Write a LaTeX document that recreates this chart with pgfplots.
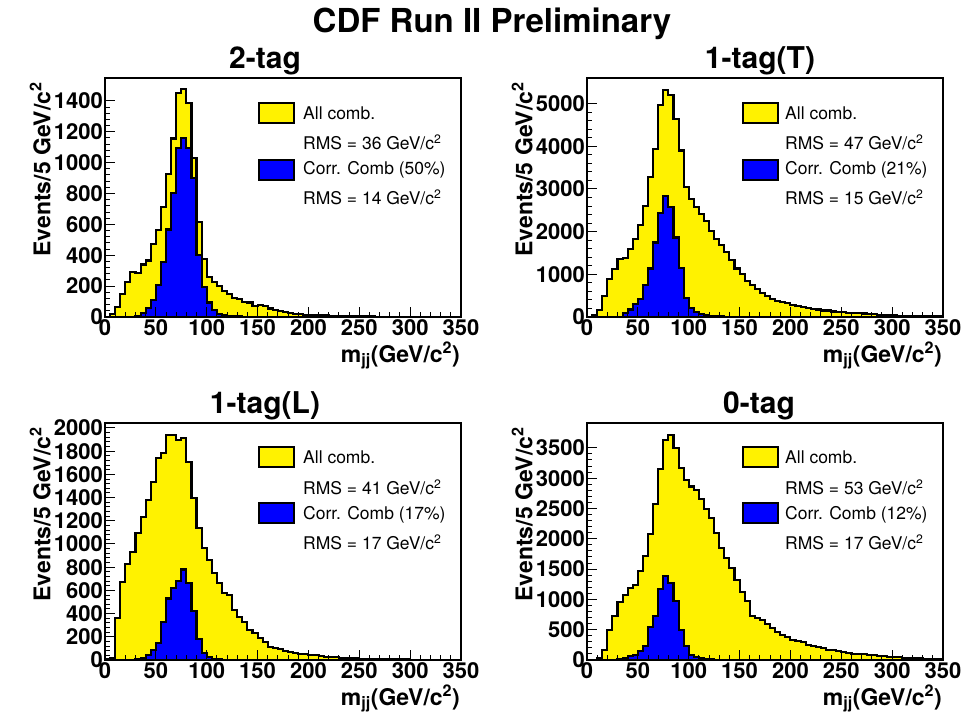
\documentclass[border=0pt]{standalone}
\usepackage{pgfplots}
\pgfplotsset{compat=1.18}
\usepackage{pgfplotstable}
\usepackage{fontspec}
\setmainfont{TeX Gyre Heros}

\pgfplotstableread{
x a c
0 0 0
5 20 0
10 65 0
15 148 0
20 225 0
25 294 0
30 283 5
35 340 28
40 366 61
45 475 111
50 563 209
55 711 355
60 927 567
65 1156 802
70 1452 1097
75 1474 1162
80 1387 1097
85 1031 900
90 617 399
95 377 192
100 257 94
105 225 44
110 198 17
115 170 12
120 148 8
125 122 5
130 116 3
135 98 2
140 94 1
145 72 1
150 78 0
155 72 0
160 55 0
165 44 0
170 39 0
175 33 0
180 28 0
185 22 0
190 18 0
195 15 0
200 13 0
205 12 0
210 10 0
215 10 0
220 8 0
225 7 0
230 6 0
235 5 0
240 5 0
245 4 0
250 4 0
255 3 0
260 3 0
265 2 0
270 2 0
275 2 0
280 1 0
285 1 0
290 1 0
295 1 0
300 1 0
305 0 0
310 0 0
315 0 0
320 0 0
325 0 0
330 0 0
335 0 0
340 0 0
345 0 0
350 0 0
}\tA

\pgfplotstableread{
x a c
0 0 0
5 50 0
10 160 0
15 490 0
20 898 0
25 1118 0
30 1353 10
35 1392 98
40 1588 176
45 1824 294
50 2157 412
55 2608 749
60 3290 1137
65 3941 1745
70 4961 2435
75 5314 2827
80 5196 2569
85 4647 1863
90 3902 1157
95 3039 435
100 2765 216
105 2569 114
110 2412 75
115 2255 50
120 2020 30
125 1824 20
130 1690 12
135 1533 8
140 1333 5
145 1137 3
150 1000 2
155 843 1
160 741 0
165 647 0
170 569 0
175 490 0
180 427 0
185 372 0
190 349 0
195 318 0
200 278 0
205 255 0
210 231 0
215 208 0
220 192 0
225 176 0
230 153 0
235 153 0
240 129 0
245 122 0
250 114 0
255 98 0
260 98 0
265 90 0
270 82 0
275 75 0
280 67 0
285 50 0
290 45 0
295 40 0
300 35 0
305 30 0
310 28 0
315 25 0
320 22 0
325 20 0
330 18 0
335 15 0
340 14 0
345 12 0
350 12 0
}\tB

\pgfplotstableread{
x a c
0 10 0
5 15 0
10 359 0
15 670 0
20 830 0
25 930 0
30 1098 5
35 1236 15
40 1379 40
45 1537 90
50 1739 150
55 1787 330
60 1940 530
65 1940 620
70 1897 680
75 1911 780
80 1710 660
85 1394 420
90 1135 180
95 963 60
100 862 25
105 747 10
110 661 5
115 575 3
120 560 2
125 431 0
130 374 0
135 330 0
140 259 0
145 230 0
150 187 0
155 158 0
160 115 0
165 100 0
170 92 0
175 80 0
180 66 0
185 57 0
190 49 0
195 49 0
200 43 0
205 40 0
210 32 0
215 28 0
220 25 0
225 22 0
230 20 0
235 18 0
240 15 0
245 13 0
250 12 0
255 10 0
260 9 0
265 8 0
270 7 0
275 6 0
280 5 0
285 5 0
290 4 0
295 4 0
300 3 0
305 2 0
310 2 0
315 2 0
320 1 0
325 1 0
330 1 0
335 1 0
340 1 0
345 1 0
350 1 0
}\tC

\pgfplotstableread{
x a c
0 0 0
5 0 0
10 33 0
15 170 0
20 489 0
25 720 3
30 950 15
35 1077 33
40 1187 60
45 1242 88
50 1462 143
55 1709 225
60 2077 544
65 2577 720
70 3148 1170
75 3632 1379
80 3714 1269
85 3495 967
90 3165 500
95 2973 225
100 2863 88
105 2808 49
110 2654 27
115 2489 15
120 2341 8
125 2093 5
130 1846 2
135 1681 1
140 1516 0
145 1324 0
150 1115 0
155 967 0
160 731 0
165 692 0
170 654 0
175 599 0
180 527 0
185 456 0
190 418 0
195 379 0
200 335 0
205 308 0
210 291 0
215 253 0
220 225 0
225 214 0
230 198 0
235 170 0
240 159 0
245 148 0
250 132 0
255 115 0
260 104 0
265 99 0
270 93 0
275 82 0
280 77 0
285 71 0
290 60 0
295 49 0
300 49 0
305 44 0
310 38 0
315 33 0
320 40 0
325 27 0
330 20 0
335 18 0
340 15 0
345 12 0
350 12 0
}\tD

\pgfplotsset{
  cdf/.style={
    scale only axis, width=356pt, anchor=south west,
    xmin=0, xmax=350, ymin=0,
    axis on top,
    axis line style={line width=1.6pt},
    tick align=inside, xtick pos=left, ytick pos=left,
    major tick length=10pt, minor tick length=5pt,
    every tick/.style={black, line width=1pt},
    xtick={0,50,...,350}, minor x tick num=4, minor y tick num=4,
    /pgf/number format/assume math mode=true,
    /pgf/number format/1000 sep={},
    ticklabel style={font=\fontsize{22}{22}\selectfont\bfseries, inner sep=2pt},
    xlabel={m\textsubscript{jj}(GeV/c\textsuperscript{2})},
    ylabel={Events/5 GeV/c\textsuperscript{2}},
    xlabel style={font=\fontsize{23}{23}\selectfont\bfseries, at={(ticklabel cs:1)}, anchor=north east, inner sep=1pt, yshift=-3pt},
    ylabel style={font=\fontsize{23}{23}\selectfont\bfseries, at={(ticklabel cs:1)}, anchor=south east, inner sep=1pt, xshift=-3pt},
    title style={font=\fontsize{30}{30}\selectfont\bfseries, at={(0.5,1)}, anchor=south, inner sep=0pt, yshift=-3pt},
  },
  yel/.style={const plot, fill=yellow, draw=black, line width=2.1pt},
  blu/.style={const plot, fill=blue, draw=black, line width=2.1pt},
}

\newcommand{\legblock}[8]{%
  \draw[fill=yellow, line width=1.8pt] (#1pt,#3pt) rectangle ++(35pt,20pt);
  \draw[fill=blue, line width=1.8pt] (#1pt,#4pt) rectangle ++(35pt,20pt);
  \node[anchor=west, inner sep=0pt, font=\fontsize{17.5}{18}\selectfont] at (#2pt,#5pt) {\leA};
  \node[anchor=west, inner sep=0pt, font=\fontsize{17.5}{18}\selectfont] at (#2pt,#6pt) {\leB};
  \node[anchor=west, inner sep=0pt, font=\fontsize{17.5}{18}\selectfont] at (#2pt,#7pt) {\leC};
  \node[anchor=west, inner sep=0pt, font=\fontsize{17.5}{18}\selectfont] at (#2pt,#8pt) {\leD};
}

\begin{document}
\begin{tikzpicture}
\useasboundingbox (0pt,0pt) rectangle (977pt,722pt);

\node[font=\fontsize{33}{33}\selectfont\bfseries, anchor=base] at (492pt,689pt) {CDF Run II Preliminary};

% 2-tag
\begin{axis}[cdf, at={(105pt,405pt)}, height=239pt, ymax=1548,
  ytick={0,200,...,1400}, title={2-tag}, title style={xshift=-18pt}]
\addplot[yel] table[x=x,y=a]{\tA} \closedcycle;
\addplot[blu] table[x=x,y=c]{\tA} \closedcycle;
\end{axis}

% 1-tag(T)
\begin{axis}[cdf, at={(587pt,405pt)}, height=239pt, ymax=5600,
  ytick={0,1000,...,5000}, title={1-tag(T)}, title style={xshift=-5pt}]
\addplot[yel] table[x=x,y=a]{\tB} \closedcycle;
\addplot[blu] table[x=x,y=c]{\tB} \closedcycle;
\end{axis}

% 1-tag(L)
\begin{axis}[cdf, at={(105pt,62pt)}, height=237pt, ymax=2043,
  ytick={0,200,...,2000}, title={1-tag(L)}, title style={xshift=-18pt}]
\addplot[yel] table[x=x,y=a]{\tC} \closedcycle;
\addplot[blu] table[x=x,y=c]{\tC} \closedcycle;
\addplot[red, line width=1pt] coordinates {(0,2036) (350,2036)};
\end{axis}

% 0-tag
\begin{axis}[cdf, at={(587pt,62pt)}, height=237pt, ymax=3910,
  ytick={0,500,...,3500}, title={0-tag}, title style={xshift=-6pt}]
\addplot[yel] table[x=x,y=a]{\tD} \closedcycle;
\addplot[blu] table[x=x,y=c]{\tD} \closedcycle;
\addplot[red, line width=1pt] coordinates {(0,3897) (350,3897)};
\end{axis}

\def\leA{All comb.}
\def\leB{RMS = 36 GeV/c\textsuperscript{2}}
\def\leC{Corr. Comb (50\%)}
\def\leD{RMS = 14 GeV/c\textsuperscript{2}}
\legblock{259}{303}{599}{542}{609}{580}{552}{525}

\def\leB{RMS = 47 GeV/c\textsuperscript{2}}
\def\leC{Corr. Comb (21\%)}
\def\leD{RMS = 15 GeV/c\textsuperscript{2}}
\legblock{743}{785}{599}{542}{609}{580}{552}{525}

\def\leB{RMS = 41 GeV/c\textsuperscript{2}}
\def\leC{Corr. Comb (17\%)}
\def\leD{RMS = 17 GeV/c\textsuperscript{2}}
\legblock{259}{303}{255}{199}{265}{235}{207}{180}

\def\leB{RMS = 53 GeV/c\textsuperscript{2}}
\def\leC{Corr. Comb (12\%)}
\def\leD{RMS = 17 GeV/c\textsuperscript{2}}
\legblock{743}{785}{255}{199}{265}{235}{207}{180}

\end{tikzpicture}
\end{document}
